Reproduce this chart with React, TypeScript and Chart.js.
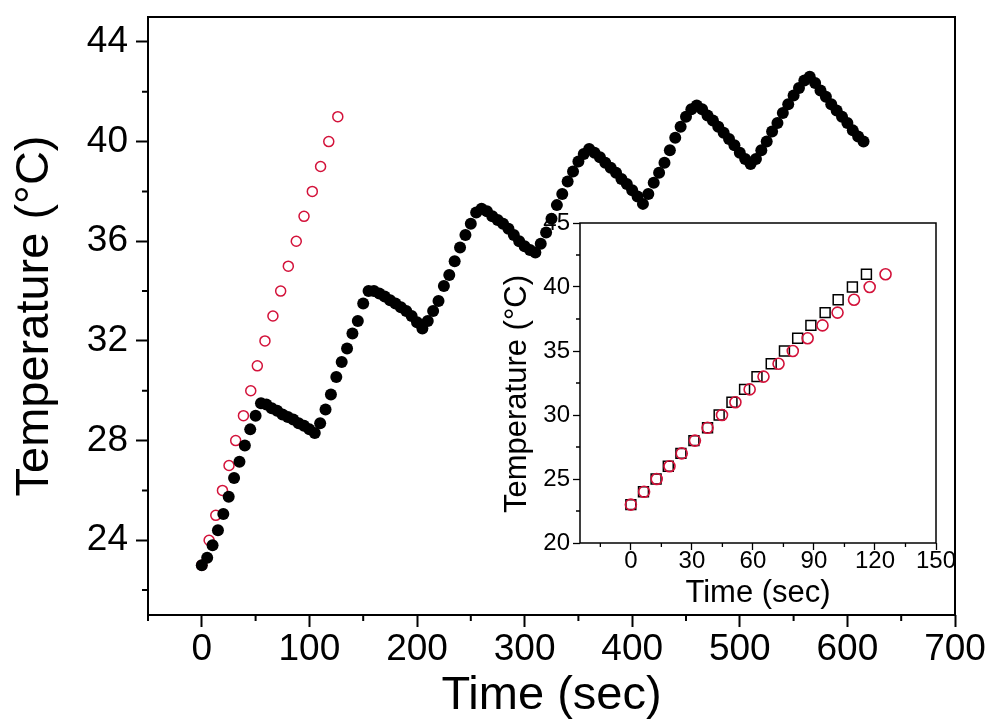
import React, { useEffect, useRef } from 'react';
import { Chart, registerables } from 'chart.js';

Chart.register(...registerables);

// ---------- Data ----------
// Main plot: pulsed heating (filled black circles)
const blackTime = [
  0, 5, 10, 15, 20, 25, 30, 35, 40, 45, 50, 55,
  60, 65, 70, 75, 80, 85, 90, 95, 100, 105,
  110, 115, 120, 125, 130, 135, 140, 145, 150, 155,
  160, 165, 170, 175, 180, 185, 190, 195, 200, 205,
  210, 215, 220, 225, 230, 235, 240, 245, 250, 255, 260,
  265, 270, 275, 280, 285, 290, 295, 300, 305, 310,
  315, 320, 325, 330, 335, 340, 345, 350, 355, 360,
  365, 370, 375, 380, 385, 390, 395, 400, 405, 410,
  415, 420, 425, 430, 435, 440, 445, 450, 455, 460,
  465, 470, 475, 480, 485, 490, 495, 500, 505, 510,
  515, 520, 525, 530, 535, 540, 545, 550, 555, 560, 565,
  570, 575, 580, 585, 590, 595, 600, 605, 610, 615,
];
const blackTemp = [
  23.0, 23.3, 23.8, 24.4, 25.05, 25.75, 26.5, 27.15, 27.8, 28.45, 29.0, 29.5,
  29.45, 29.3, 29.2, 29.05, 28.95, 28.85, 28.7, 28.6, 28.45, 28.3,
  28.7, 29.25, 29.85, 30.55, 31.15, 31.7, 32.3, 32.8, 33.5, 34.0,
  34.0, 33.9, 33.78, 33.63, 33.5, 33.35, 33.2, 33.0, 32.75, 32.5,
  32.8, 33.2, 33.6, 34.2, 34.65, 35.2, 35.75, 36.25, 36.7, 37.15, 37.3,
  37.2, 37.0, 36.85, 36.7, 36.5, 36.25, 36.0, 35.8, 35.65, 35.55,
  35.9, 36.35, 36.9, 37.45, 37.9, 38.4, 38.8, 39.2, 39.5, 39.7,
  39.55, 39.37, 39.15, 38.95, 38.75, 38.5, 38.3, 38.05, 37.8, 37.5,
  37.9, 38.35, 38.75, 39.15, 39.65, 40.15, 40.6, 41.0, 41.3, 41.45,
  41.3, 41.05, 40.85, 40.6, 40.35, 40.1, 39.85, 39.55, 39.3, 39.1,
  39.3, 39.65, 40.0, 40.4, 40.75, 41.15, 41.5, 41.85, 42.15, 42.45, 42.6,
  42.35, 42.05, 41.8, 41.5, 41.25, 41.0, 40.75, 40.45, 40.2, 40.0,
];

// Main plot: continuous heating (open red circles)
const redTime = [0, 6.8, 13, 19.2, 25.3, 31.5, 38.7, 45.5, 51.6, 58.7, 66.1, 73.3, 80.4, 87.8, 95, 102.7, 110.4, 118, 126.4];
const redTemp = [23, 24, 25, 26, 27, 28, 29, 30, 31, 32, 33, 34, 35, 36, 37, 38, 39, 40, 41];

// Inset: open black squares and open red circles
const insetSquareTime = [0, 6.2, 12.4, 18.4, 24.6, 31, 37.7, 43.4, 49.7, 55.9, 62, 69, 75.5, 82, 88.5, 95.5, 101.9, 108.9, 115.8];
const insetSquareTemp = [23, 24, 25, 26, 27, 28, 29, 30, 31, 32, 33, 34, 35, 36, 37, 38, 39, 40, 41];
const insetCircleTime = [0, 6.5, 12.7, 19, 25, 31.5, 37.7, 44.8, 51.4, 58.4, 65.2, 72.6, 79.6, 86.9, 94.2, 101.6, 109.7, 117.4, 125.2];
const insetCircleTemp = [23, 24, 25, 26, 27, 28, 29, 30, 31, 32, 33, 34, 35, 36, 37, 38, 39, 40, 41];

// Ticks
const mainXTicks = [0, 100, 200, 300, 400, 500, 600, 700];
const mainXMinor = [-50, 50, 150, 250, 350, 450, 550, 650];
const mainYTicks = [24, 28, 32, 36, 40, 44];
const mainYMinor = [22, 26, 30, 34, 38, 42];
const insetXTicks = [0, 30, 60, 90, 120, 150];
const insetXMinor = [-15, 15, 45, 75, 105, 135];
const insetYTicks = [20, 25, 30, 35, 40, 45];
const insetYMinor = [22.5, 27.5, 32.5, 37.5, 42.5];

const FONT = '"Liberation Sans", Arial, Helvetica, sans-serif';
const RED = '#d3123a';

const toPoints = (xs: number[], ys: number[]) => xs.map((x, i) => ({ x, y: ys[i] }));

const frameTicksPlugin = {
  id: 'frameTicks',
  afterDraw(chart: any, _args: any, opts: any) {
    const { ctx, chartArea: a } = chart;
    ctx.save();
    ctx.strokeStyle = '#000';
    ctx.lineWidth = opts.lineWidth;
    ctx.strokeRect(a.left, a.top, a.right - a.left, a.bottom - a.top);
    ctx.lineWidth = opts.tickWidth;
    ctx.beginPath();
    const xs = chart.scales.x;
    const ys = chart.scales.y;
    for (const v of opts.xMinor) {
      const p = xs.getPixelForValue(v);
      ctx.moveTo(p, a.bottom);
      ctx.lineTo(p, a.bottom + opts.minorLen);
    }
    for (const v of opts.yMinor) {
      const p = ys.getPixelForValue(v);
      ctx.moveTo(a.left, p);
      ctx.lineTo(a.left - opts.minorLen, p);
    }
    ctx.stroke();
    if (opts.yTitle) {
      const t = opts.yTitle;
      ctx.translate(t.x, t.y);
      ctx.rotate(-Math.PI / 2);
      ctx.fillStyle = '#000';
      ctx.font = `${t.size}px ${FONT}`;
      ctx.textAlign = 'center';
      ctx.textBaseline = 'middle';
      ctx.fillText(t.text, 0, 0);
    }
    ctx.restore();
  },
};

const noPad = (s: any) => {
  s.paddingTop = 0;
  s.paddingBottom = 0;
  s.paddingLeft = 0;
  s.paddingRight = 0;
};

export default function App() {
  const mainRef = useRef<HTMLCanvasElement>(null);
  const insetRef = useRef<HTMLCanvasElement>(null);

  useEffect(() => {
    const main = new Chart(mainRef.current as HTMLCanvasElement, {
      type: 'scatter',
      data: {
        datasets: [
          {
            label: 'pulsed',
            data: toPoints(blackTime, blackTemp),
            pointStyle: 'circle',
            pointRadius: 6,
            backgroundColor: '#000',
            borderColor: '#000',
            borderWidth: 0,
          },
          {
            label: 'continuous',
            data: toPoints(redTime, redTemp),
            pointStyle: 'circle',
            pointRadius: 5,
            backgroundColor: 'rgba(0,0,0,0)',
            borderColor: RED,
            borderWidth: 1.5,
          },
        ],
      } as any,
      options: {
        responsive: false,
        animation: false,
        devicePixelRatio: 1,
        events: [],
        layout: { padding: { left: 0, top: 17, right: 32, bottom: 0 } },
        plugins: {
          legend: { display: false },
          tooltip: { enabled: false },
          frameTicks: { lineWidth: 2, tickWidth: 2, minorLen: 6, xMinor: mainXMinor, yMinor: mainYMinor },
        } as any,
        scales: {
          x: {
            type: 'linear',
            min: -50,
            max: 700,
            afterBuildTicks: (s: any) => { s.ticks = mainXTicks.map((v) => ({ value: v })); },
            afterFit: (s: any) => { s.height = 107; s.paddingLeft = 0; s.paddingRight = 0; },
            border: { display: false },
            grid: { drawOnChartArea: false, drawTicks: true, tickLength: 12, tickWidth: 2, tickColor: '#000' },
            ticks: { color: '#000', font: { family: FONT, size: 37 }, padding: 1, maxRotation: 0, autoSkip: false },
            title: { display: true, text: 'Time (sec)', color: '#000', font: { family: FONT, size: 47 }, padding: { top: 0, bottom: -2 } },
          },
          y: {
            type: 'linear',
            min: 21,
            max: 45,
            afterBuildTicks: (s: any) => { s.ticks = mainYTicks.map((v) => ({ value: v })); },
            afterFit: (s: any) => { s.width = 148; noPad(s); },
            border: { display: false },
            grid: { drawOnChartArea: false, drawTicks: true, tickLength: 12, tickWidth: 2, tickColor: '#000' },
            ticks: { color: '#000', font: { family: FONT, size: 37 }, padding: 8, autoSkip: false },
            title: { display: true, text: 'Temperature (°C)', color: '#000', font: { family: FONT, size: 47 }, padding: { top: 7, bottom: 0 } },
          },
        },
      } as any,
      plugins: [frameTicksPlugin as any],
    });

    const inset = new Chart(insetRef.current as HTMLCanvasElement, {
      type: 'scatter',
      data: {
        datasets: [
          {
            label: 'circles',
            data: toPoints(insetCircleTime, insetCircleTemp),
            pointStyle: 'circle',
            pointRadius: 5.5,
            backgroundColor: 'rgba(0,0,0,0)',
            borderColor: RED,
            borderWidth: 1.6,
          },
          {
            label: 'squares',
            data: toPoints(insetSquareTime, insetSquareTemp),
            pointStyle: 'rect',
            pointRadius: 7,
            backgroundColor: 'rgba(0,0,0,0)',
            borderColor: '#000',
            borderWidth: 1.5,
          },
        ],
      } as any,
      options: {
        responsive: false,
        animation: false,
        devicePixelRatio: 1,
        events: [],
        layout: { padding: { left: 0, top: 28, right: 34, bottom: 0 } },
        plugins: {
          legend: { display: false },
          tooltip: { enabled: false },
          frameTicks: {
            lineWidth: 1.5, tickWidth: 1.3, minorLen: 4, xMinor: insetXMinor, yMinor: insetYMinor,
            yTitle: { text: 'Temperature (°C)', x: 37, y: 199, size: 31 },
          },
        } as any,
        scales: {
          x: {
            type: 'linear',
            min: -25,
            max: 150,
            afterBuildTicks: (s: any) => { s.ticks = insetXTicks.map((v) => ({ value: v })); },
            afterFit: (s: any) => { s.height = 72; s.paddingLeft = 0; s.paddingRight = 0; },
            border: { display: false },
            grid: { drawOnChartArea: false, drawTicks: true, tickLength: 7, tickWidth: 1.3, tickColor: '#000' },
            ticks: { color: '#000', font: { family: FONT, size: 24, lineHeight: 1 }, padding: -1, maxRotation: 0, autoSkip: false },
            title: { display: true, text: 'Time (sec)', color: '#000', font: { family: FONT, size: 31 }, padding: { top: 0, bottom: 3 } },
          },
          y: {
            type: 'linear',
            min: 20,
            max: 45,
            afterBuildTicks: (s: any) => { s.ticks = insetYTicks.map((v) => ({ value: v })); },
            afterFit: (s: any) => { s.width = 100; noPad(s); },
            border: { display: false },
            grid: { drawOnChartArea: false, drawTicks: true, tickLength: 7, tickWidth: 1.3, tickColor: '#000' },
            ticks: { color: '#000', font: { family: FONT, size: 24 }, padding: 3, autoSkip: false },
            title: { display: false },
          },
        },
      } as any,
      plugins: [frameTicksPlugin as any],
    });

    return () => {
      main.destroy();
      inset.destroy();
    };
  }, []);

  return (
    <div style={{ position: 'absolute', left: 0, top: 0, width: 987, height: 722, background: '#fff' }}>
      <canvas
        ref={insetRef}
        width={490}
        height={420}
        style={{ position: 'absolute', left: 480, top: 195, width: 490, height: 420 }}
      />
      <canvas
        ref={mainRef}
        width={987}
        height={722}
        style={{ position: 'absolute', left: 0, top: 0, width: 987, height: 722 }}
      />
    </div>
  );
}
